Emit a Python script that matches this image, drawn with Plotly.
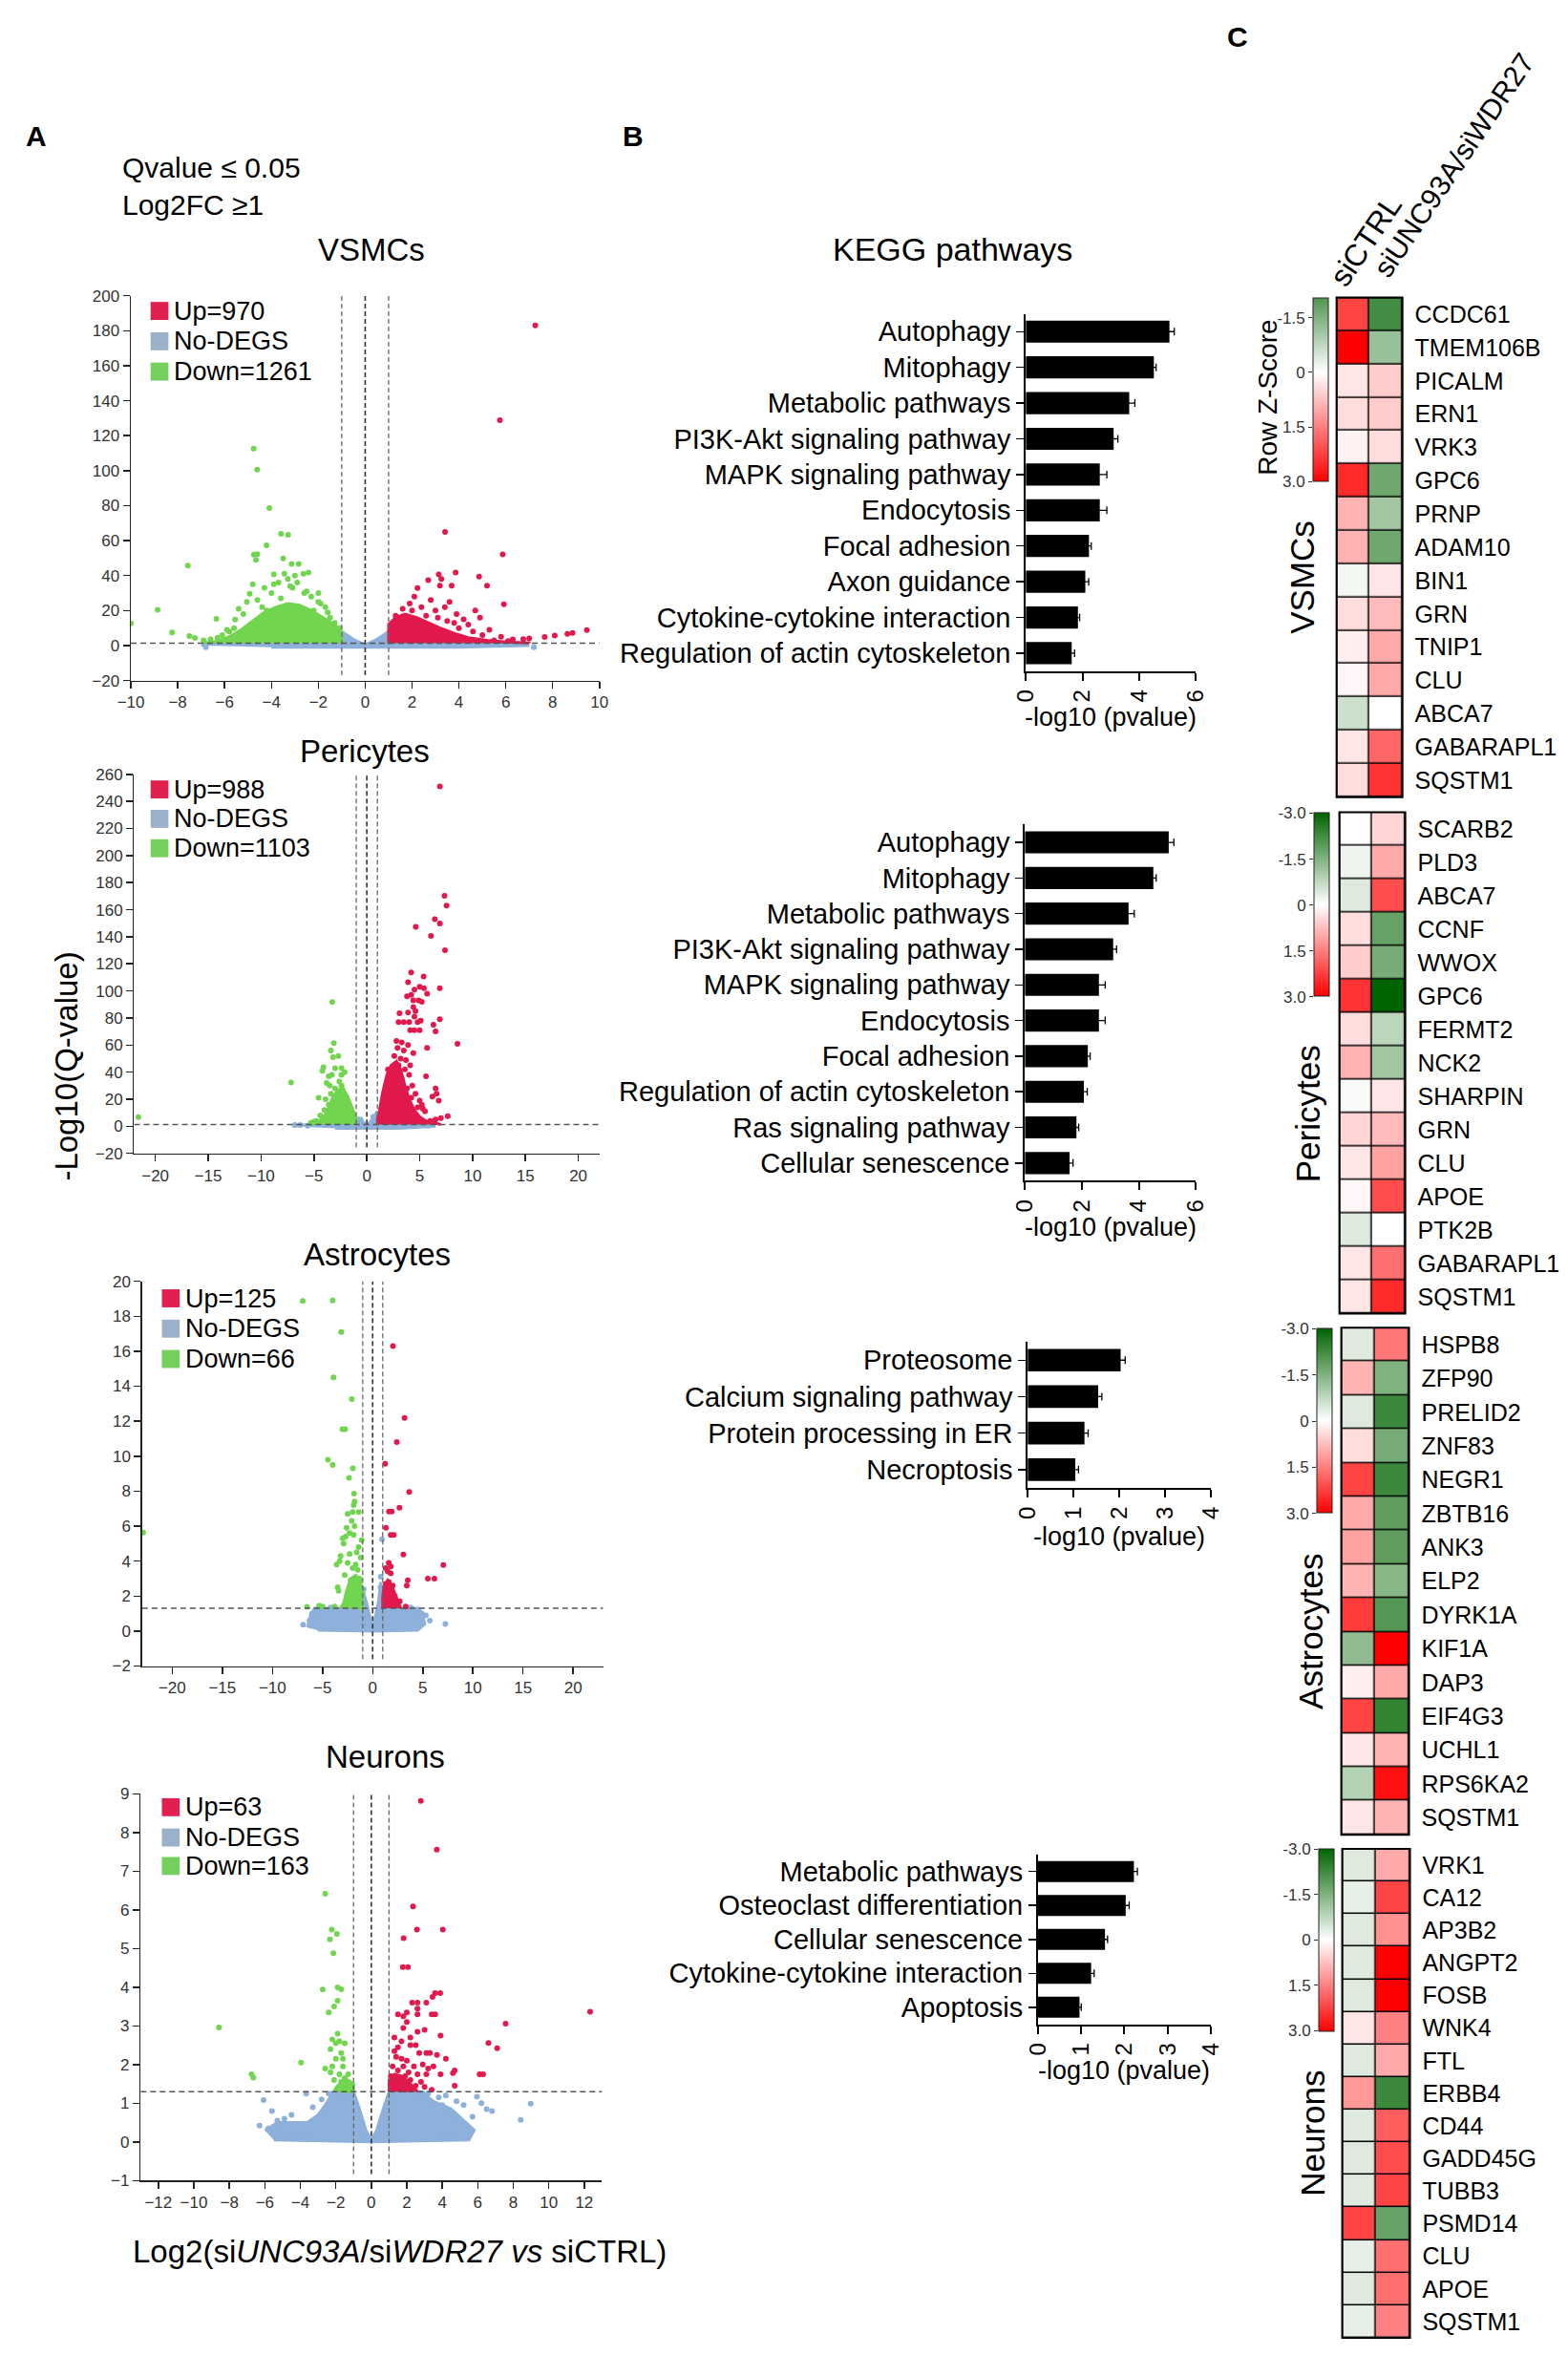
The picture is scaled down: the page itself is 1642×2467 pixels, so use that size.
import plotly.graph_objects as go

W, H = 1642, 2467          # size of the reference picture
OFF = 8                    # default page margin around the figure
FW, FH = W - 2 * OFF, H - 2 * OFF
SANS = "Liberation Sans, Arial, Helvetica, sans-serif"
RED = "#E2194C"
GREEN = "#71D54F"
BLUE = "#8DB1DA"
RED_LEG = "#E0204E"
BLUE_LEG = "#9BB1C9"
GREEN_LEG = "#74CF5C"

# ---------------- Panel A : volcano data ----------------
fc_cutoffs = [-1, 0, 1]
q_cutoff = 1.3

vsmc_n_up, vsmc_n_down = 970, 1261
vsmc_xrange, vsmc_yrange = [-10, 10], [-20, 200]
vsmc_xticks = [-10, -8, -6, -4, -2, 0, 2, 4, 6, 8, 10]
vsmc_yticks = [-20, 0, 20, 40, 60, 80, 100, 120, 140, 160, 180, 200]
vsmc_down = [(-10.0, 12.7), (-8.86, 20.5), (-8.24, 7.5), (-7.57, 45.7), (-7.5, 5.4), (-7.27, 4.4), (-6.9, 3.0),
             (-6.35, 15.3), (-5.55, 14.8), (-4.76, 112.6), (-4.61, 100.6), (-4.09, 78.6), (-3.59, 63.8),
             (-3.29, 63.3), (-4.21, 57.3), (-4.75, 52.0), (-4.6, 52.2), (-4.66, 49.0), (-3.5, 49.8),
             (-3.14, 46.7), (-2.84, 46.7), (-2.42, 41.8), (-2.64, 41.0), (-3.9, 40.7), (-3.45, 41.0),
             (-3.3, 38.0), (-4.93, 29.6), (-5.05, 25.0), (-4.4, 22.0), (-3.9, 35.0), (-3.7, 36.0), (-3.1, 33.0),
             (-2.9, 36.0), (-2.6, 30.0), (-2.3, 28.0), (-2.0, 25.0), (-1.7, 22.0), (-1.5, 16.0), (-5.6, 10.0),
             (-5.2, 18.0), (-4.9, 12.0), (-4.6, 26.0), (-4.2, 20.0), (-6.1, 6.0), (-5.9, 9.0), (-3.2, 34.0),
             (-2.5, 31.0), (-1.9, 24.0), (-1.3, 13.0), (-6.6, 3.5), (-6.3, 4.5), (-5.8, 8.0), (-5.4, 5.0),
             (-4.0, 30.0), (-3.6, 27.0), (-2.2, 20.0), (-1.1, 10.0), (-2.8, 22.0), (-4.5, 15.0), (-5.0, 8.0),
             (-4.3, 33.0), (-3.0, 40.0), (-2.0, 30.0), (-1.6, 19.0), (-5.4, 21.0), (-4.8, 35.0)]
vsmc_down_core = [(-1.0, 1.3), (-1.0, 8.0), (-1.3, 12.0), (-1.8, 16.0), (-2.3, 20.0), (-2.8, 23.0), (-3.3, 24.0),
                  (-3.8, 22.0), (-4.3, 19.0), (-4.8, 14.0), (-5.3, 9.0), (-5.8, 5.0), (-6.3, 2.6), (-6.9, 1.5),
                  (-6.9, 1.3)]
vsmc_up = [(7.26, 183.0), (5.75, 128.9), (3.41, 64.9), (5.87, 52.1), (5.92, 23.6), (3.14, 40.7), (3.86, 41.8),
           (4.86, 39.4), (5.2, 34.2), (3.25, 38.0), (2.69, 37.4), (2.23, 32.9), (3.19, 34.2), (3.69, 34.2),
           (2.1, 28.0), (4.7, 20.0), (4.9, 16.0), (3.4, 22.0), (3.9, 18.0), (4.2, 15.0), (7.66, 4.9), (8.09, 5.7),
           (8.63, 6.7), (8.85, 7.2), (9.46, 8.8), (7.0, 4.1), (6.75, 3.6), (1.9, 24.0), (2.4, 22.0), (2.8, 26.0),
           (3.0, 20.0), (3.6, 25.0), (2.0, 20.0), (1.6, 21.0), (4.4, 12.0), (5.3, 9.0), (5.8, 5.0), (6.3, 3.5),
           (5.0, 6.0), (4.0, 10.0), (3.5, 14.0), (2.6, 17.0), (1.3, 17.0), (6.1, 2.5), (5.5, 3.0), (4.6, 8.0),
           (3.8, 13.0), (2.5, 12.0), (3.1, 16.0)]
vsmc_up_core = [(1.0, 1.3), (1.0, 12.0), (1.3, 16.0), (1.7, 18.0), (2.2, 16.0), (2.7, 13.0), (3.2, 10.0),
                (3.8, 7.0), (4.4, 4.5), (5.2, 3.0), (6.0, 2.0), (7.0, 1.5), (7.0, 1.3)]
vsmc_nodeg_core = [(-7.0, 0.0), (-6.5, 1.2), (-2.0, 1.3), (-1.4, 4.0), (-1.0, 8.0), (-0.5, 3.5), (0.0, 0.5),
                   (0.5, 3.5), (1.0, 8.0), (1.4, 4.0), (2.0, 1.3), (6.5, 1.2), (7.0, 0.0), (4.0, -1.0),
                   (0.0, -1.0), (-4.0, -1.0)]
vsmc_nodeg = [(-6.8, -1.0), (7.2, -1.0), (-1.2, 5.0), (1.2, 5.5), (-0.8, 3.0), (0.8, 3.5)]

peri_n_up, peri_n_down = 988, 1103
peri_xrange, peri_yrange = [-22, 22], [-20, 260]
peri_xticks = [-20, -15, -10, -5, 0, 5, 10, 15, 20]
peri_yticks = [-20, 0, 20, 40, 60, 80, 100, 120, 140, 160, 180, 200, 220, 240, 260]
peri_up = [(6.91, 251.0), (7.35, 170.3), (7.54, 163.0), (4.63, 147.4), (6.43, 152.9), (6.91, 149.8), (6.07, 140.6),
           (7.39, 130.0), (4.19, 113.6), (5.37, 110.7), (3.9, 106.4), (4.5, 101.0), (5.0, 103.0), (5.4, 102.0),
           (5.7, 98.0), (6.9, 102.0), (3.8, 96.0), (4.2, 97.0), (4.4, 93.0), (4.9, 93.0), (5.2, 92.0), (4.4, 88.0),
           (3.9, 84.0), (4.6, 85.0), (4.5, 81.0), (3.09, 83.5), (3.0, 77.0), (3.5, 77.0), (4.0, 77.0), (4.8, 77.0),
           (5.1, 78.0), (6.9, 79.0), (4.1, 71.0), (4.5, 71.0), (5.0, 71.0), (6.3, 75.0), (6.5, 70.0), (8.57, 61.0),
           (5.7, 58.0), (2.8, 63.0), (3.3, 62.0), (3.9, 60.0), (4.4, 54.0), (3.5, 56.0), (2.9, 58.0), (5.6, 37.0),
           (6.6, 24.0), (6.2, 22.0), (6.5, 28.0), (6.8, 19.0), (5.0, 19.0), (4.2, 21.0), (3.5, 18.0), (5.3, 13.0),
           (5.5, 11.0), (7.65, 7.5), (7.0, 6.0), (6.5, 5.0), (6.0, 4.0), (3.2, 50.0), (2.6, 52.0), (3.0, 45.0),
           (3.6, 42.0), (4.0, 38.0), (3.3, 35.0), (2.5, 40.0), (4.3, 30.0), (3.8, 28.0), (2.2, 35.0), (4.6, 24.0),
           (3.1, 30.0), (5.2, 16.0), (4.8, 14.0), (1.8, 30.0), (2.0, 42.0), (4.1, 45.0), (3.7, 49.0)]
peri_up_core = [(1.0, 1.3), (1.0, 5.0), (1.2, 12.0), (1.5, 25.0), (1.9, 38.0), (2.3, 45.0), (2.8, 48.0),
                (3.2, 42.0), (3.6, 30.0), (4.0, 20.0), (4.5, 12.0), (5.0, 7.0), (5.6, 4.0), (6.5, 2.0), (7.0, 1.3)]
peri_down = [(-21.6, 6.8), (-7.17, 32.3), (-3.27, 91.7), (-3.12, 61.5), (-3.4, 56.0), (-3.2, 51.0), (-2.7, 52.0),
             (-4.1, 43.7), (-3.0, 43.0), (-2.4, 43.0), (-2.1, 40.0), (-4.2, 41.0), (-3.6, 37.0), (-3.3, 38.0),
             (-2.4, 38.0), (-3.8, 32.0), (-2.4, 30.0), (-2.3, 27.0), (-4.56, 21.0), (-5.0, 3.4), (-3.4, 24.0),
             (-3.0, 28.0), (-2.8, 20.0), (-3.6, 16.0), (-4.0, 12.0), (-3.2, 12.0), (-1.8, 18.0), (-2.0, 14.0),
             (-4.4, 8.0), (-3.7, 7.0), (-4.8, 4.0), (-5.3, 2.5), (-3.9, 20.0), (-2.6, 33.0), (-3.5, 30.0)]
peri_down_core = [(-1.0, 1.3), (-1.0, 6.0), (-1.4, 14.0), (-1.8, 22.0), (-2.2, 27.0), (-2.7, 27.0), (-3.2, 22.0),
                  (-3.6, 14.0), (-4.0, 8.0), (-4.5, 4.0), (-5.2, 2.0), (-5.5, 1.3)]
peri_nodeg_core = [(-7.0, 0.0), (-5.5, 1.3), (-1.5, 1.5), (-0.8, 6.0), (-0.3, 3.0), (0.0, 0.5), (0.3, 3.0),
                   (0.9, 10.0), (1.5, 1.3), (5.5, 1.3), (6.5, 0.0), (3.0, -1.5), (-3.0, -1.5)]
peri_nodeg = [(-6.8, 1.0), (-6.3, 1.0), (-0.6, 5.0), (0.6, 7.0), (-5.6, 0.5), (5.8, 0.5)]

astro_n_up, astro_n_down = 125, 66
astro_xrange, astro_yrange = [-23, 23], [-2, 20]
astro_xticks = [-20, -15, -10, -5, 0, 5, 10, 15, 20]
astro_yticks = [-2, 0, 2, 4, 6, 8, 10, 12, 14, 16, 18, 20]
astro_down = [(-6.98, 18.87), (-3.99, 18.9), (-3.14, 17.1), (-3.91, 14.5), (-2.09, 13.26), (-3.02, 11.55),
              (-2.75, 11.55), (-4.46, 9.8), (-3.99, 9.5), (-1.98, 9.3), (-2.36, 8.76), (-1.86, 7.86), (-1.8, 7.4),
              (-1.9, 7.2), (-2.5, 6.7), (-1.4, 6.8), (-2.0, 6.8), (-2.1, 6.3), (-1.8, 6.0), (-2.6, 5.9),
              (-2.3, 5.6), (-3.0, 5.3), (-2.7, 5.4), (-1.9, 5.5), (-1.1, 5.2), (-2.9, 5.0), (-1.4, 4.8),
              (-1.6, 4.5), (-2.3, 4.4), (-1.2, 4.2), (-3.2, 4.3), (-3.3, 4.0), (-2.5, 3.9), (-1.7, 3.8),
              (-3.6, 3.8), (-2.0, 3.6), (-1.5, 3.5), (-2.8, 3.2), (-1.3, 3.0), (-2.2, 2.9), (-3.5, 2.5),
              (-3.4, 2.3), (-1.8, 2.7), (-1.5, 2.4), (-1.1, 2.2), (-2.4, 2.0), (-1.9, 1.8), (-1.3, 1.6),
              (-2.6, 1.5), (-2.0, 1.4), (-1.2, 1.35), (-22.9, 5.63), (-6.55, 1.38), (-5.35, 1.44), (-5.0, 1.4),
              (-3.8, 1.4)]
astro_down_core = [(-1.0, 1.3), (-1.0, 2.3), (-1.3, 3.0), (-1.7, 3.2), (-2.2, 3.0), (-2.6, 2.3), (-2.9, 1.6),
                   (-3.2, 1.3)]
astro_up = [(2.02, 16.3), (3.18, 12.18), (2.4, 10.8), (1.24, 9.57), (3.64, 7.95), (2.67, 7.05), (1.63, 6.83),
            (1.9, 6.83), (1.32, 5.9), (1.8, 5.5), (2.1, 5.5), (3.06, 4.37), (7.05, 3.78), (5.5, 3.0), (6.16, 3.0),
            (3.5, 2.9), (3.4, 2.6), (1.6, 3.9), (1.8, 3.7), (1.3, 3.6), (1.5, 3.4), (1.8, 3.3), (1.3, 2.7),
            (1.6, 2.8), (2.0, 2.6), (1.4, 2.4), (1.8, 2.2), (2.2, 2.0), (1.2, 2.2), (1.6, 1.9), (2.0, 1.7),
            (2.5, 1.65), (2.7, 1.7), (1.2, 1.6), (1.5, 1.5), (3.3, 1.4)]
astro_up_core = [(1.0, 1.3), (1.0, 2.0), (1.2, 2.6), (1.5, 2.9), (1.9, 2.6), (2.3, 2.0), (2.6, 1.5), (2.8, 1.3)]
astro_nodeg_core = [(-6.5, 0.2), (-6.2, 0.9), (-5.8, 1.3), (-1.2, 1.3), (-1.0, 2.4), (-0.6, 1.6), (-0.2, 0.6),
                    (0.0, 0.2), (0.2, 0.6), (0.6, 1.8), (0.8, 2.8), (1.0, 1.3), (4.6, 1.3), (5.0, 0.9),
                    (5.2, 0.4), (4.5, 0.05), (0.0, 0.0), (-5.5, 0.05)]
astro_nodeg = [(0.93, 5.25), (0.81, 3.11), (0.78, 2.5), (-0.9, 2.4), (-6.94, 0.36), (7.25, 0.4), (5.7, 0.6),
               (4.9, 1.0), (-6.05, 1.0), (-6.3, 0.6), (5.3, 0.9), (-5.5, 1.2), (-4.2, 1.35), (3.8, 1.35)]

neuron_n_up, neuron_n_down = 63, 163
neuron_xrange, neuron_yrange = [-13, 13], [-1, 9]
neuron_xticks = [-12, -10, -8, -6, -4, -2, 0, 2, 4, 6, 8, 10, 12]
neuron_yticks = [-1, 0, 1, 2, 3, 4, 5, 6, 7, 8, 9]
neuron_up = [(2.79, 8.82), (3.69, 7.56), (2.35, 6.09), (2.57, 5.49), (4.03, 5.49), (1.82, 5.27), (1.77, 4.52),
             (2.06, 4.52), (3.59, 3.85), (3.88, 3.85), (3.45, 3.75), (2.3, 3.6), (2.6, 3.6), (3.1, 3.6),
             (2.6, 3.45), (2.6, 3.3), (1.5, 3.3), (1.8, 3.25), (2.0, 3.35), (3.4, 3.3), (3.6, 3.3), (12.33, 3.37),
             (7.57, 3.06), (1.8, 2.95), (2.0, 3.1), (2.6, 2.85), (3.0, 2.9), (3.9, 2.75), (1.3, 2.7), (2.2, 2.7),
             (2.5, 2.5), (1.7, 2.6), (1.5, 2.45), (2.2, 2.5), (6.6, 2.56), (7.09, 2.42), (1.3, 2.35), (2.7, 2.3),
             (3.1, 2.3), (3.3, 2.3), (3.7, 2.25), (4.2, 2.15), (1.4, 2.2), (1.7, 2.15), (2.0, 2.1), (2.9, 2.0),
             (1.2, 1.95), (1.8, 1.95), (2.4, 1.95), (3.2, 1.9), (3.5, 1.95), (4.7, 1.85), (4.6, 1.78), (1.5, 1.85),
             (2.1, 1.8), (2.6, 1.75), (1.1, 1.7), (1.9, 1.7), (3.1, 1.75), (3.9, 1.75), (6.1, 1.75), (6.3, 1.75),
             (1.3, 1.6), (1.7, 1.55), (2.2, 1.6), (2.8, 1.55), (1.1, 1.45), (1.6, 1.45), (2.0, 1.4), (2.5, 1.45),
             (3.0, 1.42), (4.7, 1.45), (1.2, 1.35), (1.9, 1.35), (3.4, 1.35), (2.3, 1.38)]
neuron_up_core = [(1.0, 1.3), (1.0, 1.6), (1.3, 1.75), (1.7, 1.7), (2.1, 1.55), (2.4, 1.4), (2.6, 1.3)]
neuron_down = [(-2.6, 6.42), (-2.23, 5.49), (-1.94, 5.38), (-2.33, 5.24), (-2.14, 4.88), (-2.74, 3.94),
               (-1.9, 4.0), (-1.7, 3.95), (-1.9, 3.65), (-2.1, 3.5), (-2.4, 3.35), (-8.59, 2.96), (-1.9, 2.8),
               (-2.2, 2.65), (-2.0, 2.55), (-1.5, 2.55), (-1.8, 2.6), (-2.3, 2.4), (-1.7, 2.3), (-2.0, 2.15),
               (-1.6, 2.15), (-3.96, 2.05), (-2.2, 1.95), (-1.6, 1.95), (-2.6, 1.9), (-2.3, 1.8), (-1.8, 1.75),
               (-1.3, 1.75), (-1.5, 1.65), (-2.1, 1.6), (-1.7, 1.55), (-1.3, 1.5), (-1.6, 1.42), (-1.4, 1.38),
               (-1.8, 1.36), (-1.2, 1.33), (-1.5, 1.32), (-6.75, 1.75), (-6.65, 1.66)]
neuron_down_core = [(-1.0, 1.3), (-1.0, 1.5), (-1.3, 1.6), (-1.7, 1.55), (-2.0, 1.4), (-2.1, 1.3)]
neuron_nodeg_core = [(-6.0, 0.3), (-5.3, 0.5), (-4.6, 0.5), (-3.6, 0.5), (-3.0, 0.7), (-2.6, 0.95), (-2.2, 1.25),
                     (-1.0, 1.3), (-0.7, 0.9), (-0.3, 0.3), (0.0, 0.05), (0.3, 0.3), (0.7, 0.9), (1.0, 1.3),
                     (2.8, 1.3), (3.5, 1.05), (4.5, 0.85), (5.2, 0.55), (5.8, 0.3), (5.5, 0.05), (0.0, 0.0),
                     (-5.5, 0.05)]
neuron_nodeg = [(-6.07, 1.08), (-5.6, 0.8), (-6.3, 0.42), (-5.8, 0.35), (-5.3, 0.55), (-3.67, 1.25), (8.42, 0.57),
                (8.98, 0.99), (6.8, 0.8), (5.95, 1.17), (6.2, 1.0), (6.5, 0.85), (5.7, 0.65), (-4.5, 0.7),
                (-3.3, 0.9), (-2.8, 1.1), (3.2, 1.25), (3.8, 1.15), (4.2, 1.2), (4.8, 1.05), (5.2, 0.95),
                (-2.4, 1.25), (2.9, 1.25), (-4.9, 0.6), (4.0, 0.95)]

# ---------------- Panel B : KEGG data ----------------
kegg_vsmc_terms = ["Autophagy", "Mitophagy", "Metabolic pathways", "PI3K-Akt signaling pathway",
                   "MAPK signaling pathway", "Endocytosis", "Focal adhesion", "Axon guidance",
                   "Cytokine-cytokine interaction", "Regulation of actin cytoskeleton"]
kegg_vsmc_vals = [5.07, 4.52, 3.65, 3.10, 2.61, 2.61, 2.23, 2.10, 1.84, 1.62]
kegg_vsmc_err = [0.17, 0.08, 0.20, 0.15, 0.25, 0.25, 0.08, 0.12, 0.06, 0.10]

kegg_peri_terms = ["Autophagy", "Mitophagy", "Metabolic pathways", "PI3K-Akt signaling pathway",
                   "MAPK signaling pathway", "Endocytosis", "Focal adhesion", "Regulation of actin cytoskeleton",
                   "Ras signaling pathway", "Cellular senescence"]
kegg_peri_vals = [5.05, 4.51, 3.64, 3.10, 2.60, 2.60, 2.21, 2.07, 1.81, 1.57]
kegg_peri_err = [0.18, 0.10, 0.20, 0.12, 0.22, 0.22, 0.08, 0.12, 0.08, 0.12]

kegg_astro_terms = ["Proteosome", "Calcium signaling pathway", "Protein processing in ER", "Necroptosis"]
kegg_astro_vals = [2.03, 1.54, 1.24, 1.04]
kegg_astro_err = [0.10, 0.08, 0.08, 0.07]

kegg_neuron_terms = ["Metabolic pathways", "Osteoclast differentiation", "Cellular senescence",
                     "Cytokine-cytokine interaction", "Apoptosis"]
kegg_neuron_vals = [2.22, 2.03, 1.55, 1.23, 0.96]
kegg_neuron_err = [0.08, 0.08, 0.06, 0.07, 0.04]

# ---------------- Panel C : heatmap data (row z-scores) ----------------
conditions = ["siCTRL", "siUNC93A/siWDR27"]
vsmc_genes = ["CCDC61", "TMEM106B", "PICALM", "ERN1", "VRK3", "GPC6", "PRNP", "ADAM10", "BIN1", "GRN", "TNIP1",
              "CLU", "ABCA7", "GABARAPL1", "SQSTM1"]
vsmc_ctrl = [2.2, 3.0, 0.3, 0.4, 0.15, 2.5, 0.9, 0.9, -0.15, 0.4, 0.2, 0.1, -0.6, 0.3, 0.4]
vsmc_si = [-2.2, -1.2, 0.6, 0.6, 0.4, -1.7, -1.1, -1.7, 0.3, 0.8, 1.0, 1.0, 0.0, 1.8, 2.4]

peri_genes = ["SCARB2", "PLD3", "ABCA7", "CCNF", "WWOX", "GPC6", "FERMT2", "NCK2", "SHARPIN", "GRN", "CLU", "APOE",
              "PTK2B", "GABARAPL1", "SQSTM1"]
peri_ctrl = [0.0, -0.2, -0.4, 0.4, 0.6, 2.4, 0.4, 0.9, -0.1, 0.5, 0.3, 0.1, -0.4, 0.3, 0.3]
peri_si = [0.5, 1.0, 2.1, -1.8, -1.6, -3.0, -0.8, -1.1, 0.3, 0.8, 1.1, 2.1, 0.0, 1.7, 2.5]

astro_genes = ["HSPB8", "ZFP90", "PRELID2", "ZNF83", "NEGR1", "ZBTB16", "ANK3", "ELP2", "DYRK1A", "KIF1A", "DAP3",
               "EIF4G3", "UCHL1", "RPS6KA2", "SQSTM1"]
astro_ctrl = [-0.4, 0.9, -0.4, 0.4, 2.2, 1.0, 1.1, 0.9, 2.3, -1.3, 0.2, 2.2, 0.3, -0.9, 0.3]
astro_si = [1.6, -1.5, -2.3, -1.6, -2.3, -1.9, -1.9, -1.4, -2.0, 3.0, 1.0, -2.4, 0.9, 2.8, 0.9]

neuron_genes = ["VRK1", "CA12", "AP3B2", "ANGPT2", "FOSB", "WNK4", "FTL", "ERBB4", "CD44", "GADD45G", "TUBB3",
                "PSMD14", "CLU", "APOE", "SQSTM1"]
neuron_ctrl = [-0.4, -0.3, -0.4, -0.4, -0.4, 0.3, -0.4, 1.2, -0.4, -0.4, -0.4, 2.2, -0.3, -0.4, -0.3]
neuron_si = [1.0, 2.2, 1.3, 3.0, 3.0, 1.5, 1.0, -2.3, 1.9, 2.1, 2.2, -1.8, 1.7, 1.7, 1.5]

cb_ticks_full = [-3.0, -1.5, 0.0, 1.5, 3.0]
cb_ticks_vsmc = [-1.5, 0.0, 1.5, 3.0]
z_limit = 3.0

# ---------------- helpers ----------------
fig = go.Figure()
axes = {}
shapes = []
anns = []


def fx(px):
    return (px - OFF) / FW


def fy(py):
    return 1 - (py - OFF) / FH


def names(i):
    s = "" if i == 1 else str(i)
    return "x" + s, "y" + s, "xaxis" + s, "yaxis" + s


def text(t, x, y, size, xanchor="center", yanchor="middle", angle=0, color="black"):
    anns.append(dict(text=t, x=fx(x), y=fy(y), xref="paper", yref="paper", showarrow=False,
                     xanchor=xanchor, yanchor=yanchor, textangle=angle,
                     font=dict(family=SANS, size=size, color=color)))


def split(lst):
    return [p[0] for p in lst], [p[1] for p in lst]


# ---------------- Panel A ----------------
vax = dict(showline=True, linecolor="#222", linewidth=1.5, ticks="outside", ticklen=7, tickwidth=1.5,
           tickcolor="#222", tickfont=dict(family=SANS, size=17, color="#333"), showgrid=False,
           zeroline=False, fixedrange=True)

volcanoes = [
    dict(title="VSMCs", xr=vsmc_xrange, yr=vsmc_yrange, xt=vsmc_xticks, yt=vsmc_yticks, up=vsmc_up,
         upc=vsmc_up_core, dn=vsmc_down, dnc=vsmc_down_core, nc=vsmc_nodeg_core, nd=vsmc_nodeg,
         nu=vsmc_n_up, ndn=vsmc_n_down, vbot=-17, box=(125, 624, 303, 709), tpos=(381, 254),
         lx=146, ly=(319, 351, 383)),
    dict(title="Pericytes", xr=peri_xrange, yr=peri_yrange, xt=peri_xticks, yt=peri_yticks, up=peri_up,
         upc=peri_up_core, dn=peri_down, dnc=peri_down_core, nc=peri_nodeg_core, nd=peri_nodeg,
         nu=peri_n_up, ndn=peri_n_down, vbot=-15.4, box=(128.5, 624, 808, 1208), tpos=(374, 784),
         lx=146, ly=(824, 855, 886)),
    dict(title="Astrocytes", xr=astro_xrange, yr=astro_yrange, xt=astro_xticks, yt=astro_yticks, up=astro_up,
         upc=astro_up_core, dn=astro_down, dnc=astro_down_core, nc=astro_nodeg_core, nd=astro_nodeg,
         nu=astro_n_up, ndn=astro_n_down, vbot=-1.6, box=(137, 628, 1343, 1749), tpos=(387, 1315),
         lx=158, ly=(1361, 1393, 1425)),
    dict(title="Neurons", xr=neuron_xrange, yr=neuron_yrange, xt=neuron_xticks, yt=neuron_yticks, up=neuron_up,
         upc=neuron_up_core, dn=neuron_down, dnc=neuron_down_core, nc=neuron_nodeg_core, nd=neuron_nodeg,
         nu=neuron_n_up, ndn=neuron_n_down, vbot=-0.83, box=(135.4, 626.7, 1884, 2292), tpos=(396, 1845),
         lx=158, ly=(1898, 1930, 1960)),
]

for i, v in enumerate(volcanoes, start=1):
    xid, yid, xn, yn = names(i)
    x0, x1, y0, y1 = v["box"]
    axes[xn] = dict(domain=[fx(x0), fx(x1)], anchor=yid, range=v["xr"], tickvals=v["xt"], **vax)
    axes[yn] = dict(domain=[fy(y1), fy(y0)], anchor=xid, range=v["yr"], tickvals=v["yt"], **vax)
    for core, pts, col in [(v["nc"], v["nd"], BLUE), (v["dnc"], v["dn"], GREEN), (v["upc"], v["up"], RED)]:
        cx, cy = split(core)
        fig.add_trace(go.Scatter(x=cx, y=cy, mode="lines", fill="toself", fillcolor=col,
                                 line=dict(color=col, width=3), xaxis=xid, yaxis=yid,
                                 showlegend=False, hoverinfo="skip"))
        px_, py_ = split(pts)
        fig.add_trace(go.Scatter(x=px_, y=py_, mode="markers", marker=dict(color=col, size=6, line=dict(width=0)),
                                 xaxis=xid, yaxis=yid, showlegend=False, hoverinfo="skip"))
    for c in fc_cutoffs:
        shapes.append(dict(type="line", xref=xid, yref=yid, x0=c, x1=c, y0=v["vbot"], y1=v["yr"][1],
                           line=dict(color="#333" if c == 0 else "#666", width=1.6 if c == 0 else 1.3,
                                     dash="5px,3px")))
    shapes.append(dict(type="line", xref=xid, yref=yid, x0=v["xr"][0], x1=v["xr"][1], y0=q_cutoff, y1=q_cutoff,
                       line=dict(color="#555", width=1.4, dash="6px,4px")))
    text(v["title"], v["tpos"][0], v["tpos"][1], 33)
    labels = [("Up=%d" % v["nu"], RED_LEG), ("No-DEGS", BLUE_LEG), ("Down=%d" % v["ndn"], GREEN_LEG)]
    for (lab, col), cy in zip(labels, v["ly"]):
        shapes.append(dict(type="rect", xref="paper", yref="paper", x0=fx(v["lx"]), x1=fx(v["lx"] + 19),
                           y0=fy(cy + 9.5), y1=fy(cy - 9.5), fillcolor=col, line=dict(width=0)))
        text(lab, v["lx"] + 23, cy, 27, xanchor="left")

text("<b>A</b>", 24, 134, 30)
text("Qvalue \u2264 0.05", 114, 168, 30, xanchor="left")
text("Log2FC \u22651", 114, 207, 30, xanchor="left")
text("-Log10(Q-value)", 56, 1116, 33, angle=-90)
text("Log2(si<i>UNC93A</i>/si<i>WDR27</i> <i>vs</i> siCTRL)", 411, 2367, 33)

# ---------------- Panel B ----------------
bar_panels = [
    dict(cats=kegg_vsmc_terms, vals=kegg_vsmc_vals, errs=kegg_vsmc_err, xr=[0, 6], xt=[0, 2, 4, 6],
         box=(1078, 1259, 322, 699), lab_y=748),
    dict(cats=kegg_peri_terms, vals=kegg_peri_vals, errs=kegg_peri_err, xr=[0, 6], xt=[0, 2, 4, 6],
         box=(1077, 1259, 861, 1237), lab_y=1286),
    dict(cats=kegg_astro_terms, vals=kegg_astro_vals, errs=kegg_astro_err, xr=[0, 4], xt=[0, 1, 2, 3, 4],
         box=(1080, 1275, 1407, 1561), lab_y=1612),
    dict(cats=kegg_neuron_terms, vals=kegg_neuron_vals, errs=kegg_neuron_err, xr=[0, 4], xt=[0, 1, 2, 3, 4],
         box=(1091, 1275, 1948, 2127), lab_y=2176),
]
for j, b in enumerate(bar_panels, start=5):
    xid, yid, xn, yn = names(j)
    x0, x1, y0, y1 = b["box"]
    n = len(b["cats"])
    fig.add_trace(go.Bar(y=b["cats"], x=b["vals"], orientation="h", width=0.62,
                         marker=dict(color="black", line=dict(width=0)),
                         error_x=dict(type="data", array=b["errs"], visible=True, color="black",
                                      thickness=1.3, width=4),
                         xaxis=xid, yaxis=yid, showlegend=False, hoverinfo="skip"))
    axes[xn] = dict(domain=[fx(x0), fx(x1)], anchor=yid, range=b["xr"], tickvals=b["xt"], tickangle=-90,
                    showline=True, linecolor="black", linewidth=2, ticks="outside", ticklen=8, tickwidth=2,
                    tickcolor="black", tickfont=dict(family=SANS, size=24, color="black"),
                    showgrid=False, zeroline=False)
    axes[yn] = dict(domain=[fy(y1), fy(y0)], anchor=xid, type="category", range=[n - 0.5, -0.5],
                    showline=True, linecolor="black", linewidth=2, ticks="outside", ticklen=8, tickwidth=1.5,
                    tickcolor="black", tickfont=dict(family=SANS, size=29, color="black"),
                    showgrid=False, zeroline=False)
    text("-log10 (pvalue)", (x0 + x1) / 2, b["lab_y"], 27)

text("<b>B</b>", 660, 134, 30)
text("KEGG pathways", 1000, 254, 34)

# ---------------- Panel C ----------------
GREEN_END = (0, 100, 0)
hm_scale = [[0.0, "rgb(0,100,0)"], [0.5, "rgb(255,255,255)"], [1.0, "rgb(255,0,0)"]]

heat_panels = [
    dict(genes=vsmc_genes, ctrl=vsmc_ctrl, si=vsmc_si, box=(1409, 1479, 305, 832), cb=(1384, 1400, 305, 499),
         cb_top=-2.05, ticks=cb_ticks_vsmc, label="VSMCs", lpos=(1372, 600)),
    dict(genes=peri_genes, ctrl=peri_ctrl, si=peri_si, box=(1412, 1482, 848, 1377), cb=(1385, 1401, 849, 1043),
         cb_top=-3.0, ticks=cb_ticks_full, label="Pericytes", lpos=(1378, 1166)),
    dict(genes=astro_genes, ctrl=astro_ctrl, si=astro_si, box=(1414, 1486, 1392, 1927),
         cb=(1388, 1404, 1393, 1588), cb_top=-3.0, ticks=cb_ticks_full, label="Astrocytes", lpos=(1382, 1713)),
    dict(genes=neuron_genes, ctrl=neuron_ctrl, si=neuron_si, box=(1415, 1487, 1942, 2458),
         cb=(1390, 1406, 1942, 2134), cb_top=-3.0, ticks=cb_ticks_full, label="Neurons", lpos=(1384, 2242)),
]

for k, h in enumerate(heat_panels):
    i = 9 + k
    xid, yid, xn, yn = names(i)
    x0, x1, y0, y1 = h["box"]
    z = [[c, s] for c, s in zip(h["ctrl"], h["si"])]
    fig.add_trace(go.Heatmap(z=z, x=conditions, y=h["genes"], colorscale=hm_scale, zmin=-z_limit, zmax=z_limit,
                             showscale=False, xgap=1.5, ygap=1.5, xaxis=xid, yaxis=yid, hoverinfo="skip"))
    axes[xn] = dict(domain=[fx(x0), fx(x1)], anchor=yid, type="category", range=[-0.5, 1.5],
                    showticklabels=False, ticks="", showline=False, showgrid=False, zeroline=False)
    axes[yn] = dict(domain=[fy(y1), fy(y0)], anchor=xid, type="category", range=[len(h["genes"]) - 0.5, -0.5],
                    side="right", ticks="outside", ticklen=7, tickcolor="rgba(0,0,0,0)",
                    tickfont=dict(family=SANS, size=25, color="black"), showline=False, showgrid=False,
                    zeroline=False)
    shapes.append(dict(type="rect", xref=xid + " domain", yref=yid + " domain", x0=0, x1=1, y0=0, y1=1,
                       fillcolor="black", line=dict(width=0), layer="below"))
    shapes.append(dict(type="rect", xref=xid + " domain", yref=yid + " domain", x0=0, x1=1, y0=0, y1=1,
                       fillcolor="rgba(0,0,0,0)", line=dict(color="black", width=2.2), layer="above"))

    # colour bar (plotly puts the minimum at the bottom, so the negated score is used:
    # red (+3) sits at the bottom and green (-3) at the top, as in the reference)
    cx0, cx1, cy0, cy1 = h["cb"]
    top_val = h["cb_top"]
    t = -top_val / z_limit
    top_col = "rgb(%d,%d,%d)" % tuple(round(255 + (g - 255) * t) for g in GREEN_END)
    f_white = z_limit / (z_limit - top_val)
    cb_scale = [[0.0, "rgb(255,0,0)"], [f_white, "rgb(255,255,255)"], [1.0, top_col]]
    j = 13 + k
    cxid, cyid, cxn, cyn = names(j)
    fig.add_trace(go.Scatter(x=[None], y=[None], mode="markers", xaxis=cxid, yaxis=cyid, showlegend=False,
                             hoverinfo="skip",
                             marker=dict(color=[0], cmin=-z_limit, cmax=-top_val, colorscale=cb_scale,
                                         showscale=True,
                                         colorbar=dict(x=fx(cx0), xanchor="left", y=fy(cy0), yanchor="top",
                                                       len=(cy1 - cy0) / FH, lenmode="fraction",
                                                       thickness=cx1 - cx0, thicknessmode="pixels",
                                                       xpad=0, ypad=0, outlinewidth=1, outlinecolor="#222",
                                                       showticklabels=False, ticks=""))))
    axes[cxn] = dict(domain=[fx(cx0), fx(cx1)], anchor=cyid, range=[0, 1], visible=False)
    axes[cyn] = dict(domain=[fy(cy1), fy(cy0)], anchor=cxid, range=[z_limit, top_val], tickvals=h["ticks"],
                     ticktext=["0" if tv == 0 else "%.1f" % tv for tv in h["ticks"]], ticks="outside",
                     ticklen=4, tickcolor="#333", tickfont=dict(family=SANS, size=17, color="#333"),
                     showline=False, showgrid=False, zeroline=False)
    text(h["label"], h["lpos"][0], h["lpos"][1], 35, angle=-90)

text("<b>C</b>", 1304, 30, 30)
text("Row Z-Score", 1336, 410, 28, angle=-90)
text("siCTRL", 1440, 245, 32, angle=-56)
text("siUNC93A/siWDR27", 1534, 165, 30, angle=-56)

fig.update_layout(width=FW, height=FH, margin=dict(l=0, r=0, t=0, b=0), paper_bgcolor="white",
                  plot_bgcolor="white", showlegend=False, shapes=shapes, annotations=anns,
                  font=dict(family=SANS, color="black"), **axes)

fig.write_html("out.html", config={"displayModeBar": False, "staticPlot": True})
